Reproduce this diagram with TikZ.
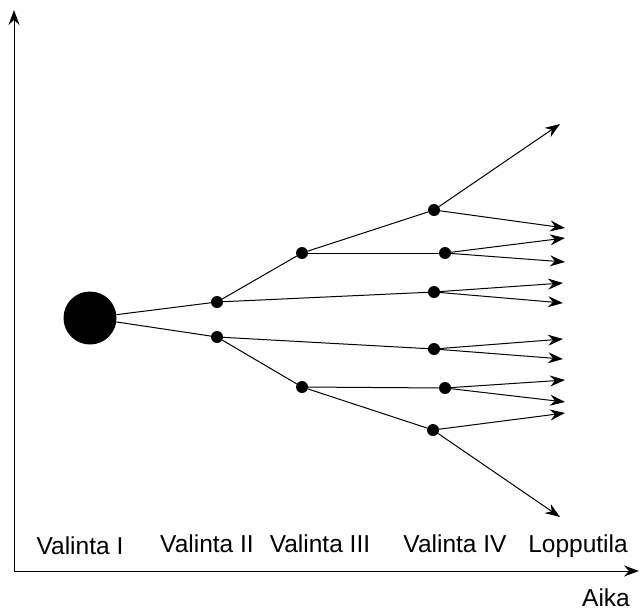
\documentclass[tikz,border=0pt]{standalone}
\usepackage{fontspec}
\setmainfont{Liberation Sans}
\usetikzlibrary{arrows.meta}

\tikzset{
	alku/.style={circle,fill=black,inner sep=0pt,minimum size=53pt},
	valinta/.style={circle,fill=black,inner sep=0pt,minimum size=12pt},
	viiva/.style={line width=1pt},
	nuoli/.style={viiva,-{Stealth[length=15pt,width=11pt,inset=5pt]}},
	nimi/.style={anchor=base,inner sep=0pt,font=\fontsize{24.5}{28}\selectfont},
}

\begin{document}
\begin{tikzpicture}[x=1pt,y=-1pt]
		\useasboundingbox (0,0) rectangle (640,608);
		
		% axes
		\coordinate (O) at (14,571);
		\coordinate (ylos) at (14,10);
		\coordinate (aika) at (639,571);
		\draw[nuoli] (O) -- (ylos);
		\draw[nuoli] (O) -- (aika);
		
		% choices
		\node[alku] (a) at (90,318) {};
		\node[valinta] (b1) at (217,302) {};
		\node[valinta] (b2) at (217,337) {};
		\node[valinta] (c1) at (302,253) {};
		\node[valinta] (c2) at (302,387) {};
		\node[valinta] (d1) at (434,210) {};
		\node[valinta] (d2) at (445,253) {};
		\node[valinta] (d3) at (434,292) {};
		\node[valinta] (d4) at (434,349) {};
		\node[valinta] (d5) at (445,388) {};
		\node[valinta] (d6) at (433,430) {};
		
		\draw[viiva] (a) -- (b1);
		\draw[viiva] (a) -- (b2);
		\draw[viiva] (b1) -- (c1);
		\draw[viiva] (b1) -- (d3);
		\draw[viiva] (b2) -- (d4);
		\draw[viiva] (b2) -- (c2);
		\draw[viiva] (c1) -- (d1);
		\draw[viiva] (c1) -- (d2);
		\draw[viiva] (c2) -- (d5);
		\draw[viiva] (c2) -- (d6);
		
		% end states
		\coordinate (e1) at (560,124);
		\coordinate (e2) at (565,228);
		\coordinate (e3) at (565,238);
		\coordinate (e4) at (565,262);
		\coordinate (e5) at (563,283);
		\coordinate (e6) at (563,303);
		\coordinate (e7) at (563,339);
		\coordinate (e8) at (563,359);
		\coordinate (e9) at (565,380);
		\coordinate (e10) at (565,402);
		\coordinate (e11) at (565,413);
		\coordinate (e12) at (560,517);
		\foreach \d/\e in {d1/e1,d1/e2,d2/e3,d2/e4,d3/e5,d3/e6,d4/e7,d4/e8,d5/e9,d5/e10,d6/e11,d6/e12}
			\draw[nuoli] (\d) -- (\e);
		
		% labels
		\node[nimi] (v1) at (80,554) {Valinta I};
		\node[nimi] (v2) at (207,552) {Valinta II};
		\node[nimi] (v3) at (320,552) {Valinta III};
		\node[nimi] (v4) at (455,552) {Valinta IV};
		\node[nimi] (v5) at (578,552) {Lopputila};
		\node[nimi] (t) at (606,606) {Aika};
		
\end{tikzpicture}
\end{document}
